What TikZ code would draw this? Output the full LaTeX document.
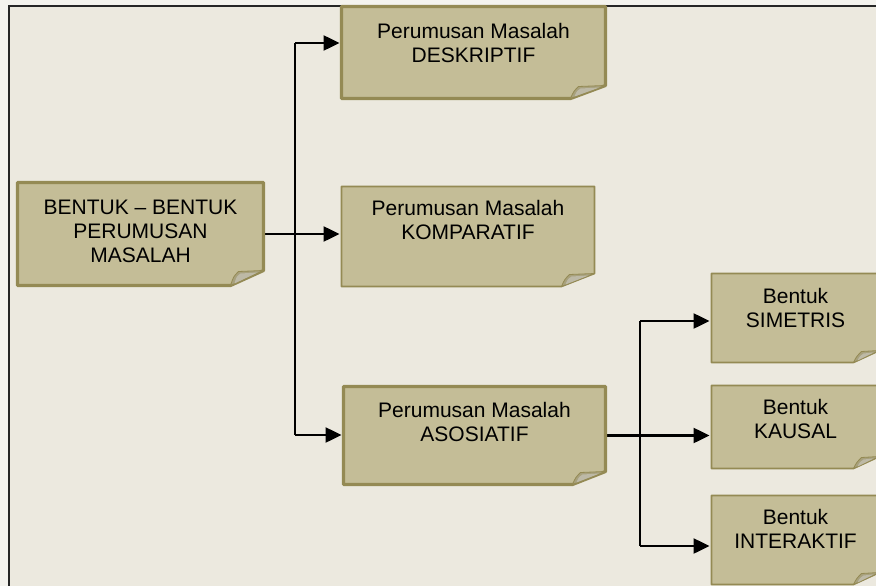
\documentclass[tikz,border=0pt]{standalone}
\usepackage{fontspec}
\setmainfont{Liberation Sans}
\usetikzlibrary{arrows.meta,backgrounds,calc}

\definecolor{outside}{HTML}{F4F3EE}
\definecolor{paper}{HTML}{ECE9DF}
\definecolor{notefill}{HTML}{C4BD97}
\definecolor{noteline}{HTML}{948A54}
\definecolor{curlfill}{HTML}{A8A17C}
\definecolor{curllight}{HTML}{BDB9A6}

% text of a sticky note: width, height, top padding, lines
\newcommand\notetext[4]{%
  \parbox[c][#2pt][t]{#1pt}{\centering\fontsize{21}{24}\selectfont\vspace*{#3pt}#4\par}}

% body of a sticky note with a curled lower right corner:
% node name, border width, fold width, fold height
\newcommand\notebody[4]{%
  \path[fill=notefill, draw=noteline, line width=#2pt, line join=round]
    (#1.north west) -- (#1.north east)
    -- ($(#1.south east)+(0,-#4)$)
    -- ($(#1.south east)+(-#3,0)$)
    -- (#1.south west) -- cycle;
  \path[fill=curlfill, draw=noteline, line width=0.8pt, line join=round]
    ($(#1.south east)+(-#3,0)$)
    .. controls ($(#1.south east)+(-#3+3,-#4+6)$) .. ($(#1.south east)+(-#3+8,-#4+1)$)
    -- ($(#1.south east)+(0,-#4)$) -- cycle;
  \path[fill=curllight]
    ($(#1.south east)+(-#3+4,-2)$)
    .. controls ($(#1.south east)+(-#3+6,-#4+6)$) .. ($(#1.south east)+(-#3+10,-#4+3)$)
    -- ($(#1.south east)+(-6,-#4+2)$) -- cycle;
}

\tikzset{
  note/.style={inner sep=0pt, outer sep=0pt, text=black},
  link/.style={draw=black, line width=2.5pt},
  arrowlink/.style={link, -{Triangle[length=16pt, width=15pt]}, shorten >=2pt},
}

\begin{document}
\begin{tikzpicture}[x=1pt, y=-1pt]
  \useasboundingbox (0,0) rectangle (876,586);

  % notes
  \node[note] (main) at (140.5,234)
    {\notetext{246}{103}{18}{BENTUK -- BENTUK\\PERUMUSAN\\MASALAH}};
  \node[note] (desk) at (473.5,52.5)
    {\notetext{264}{92}{17}{Perumusan Masalah\\DESKRIPTIF}};
  \node[note] (komp) at (468,236.5)
    {\notetext{253}{100}{14}{Perumusan Masalah\\KOMPARATIF}};
  \node[note] (asos) at (474.5,435.5)
    {\notetext{262}{98}{16}{Perumusan Masalah\\ASOSIATIF}};
  \node[note] (sime) at (795.5,318)
    {\notetext{168}{89}{15}{Bentuk\\SIMETRIS}};
  \node[note] (kaus) at (795.5,427)
    {\notetext{168}{83}{14}{Bentuk\\KAUSAL}};
  \node[note] (inte) at (795.5,540)
    {\notetext{168}{89}{14}{Bentuk\\INTERAKTIF}};

  % junction points of the connectors
  \coordinate (ltop) at (295,43);
  \coordinate (lbot) at (295,435);
  \coordinate (rtop) at (640,321);
  \coordinate (rbot) at (640,546);

  \begin{scope}[on background layer]
    % page and frame
    \fill[outside] (0,0) rectangle (876,586);
    \fill[paper, draw=black!85, line width=1.6pt] (9,6) rectangle (890,600);

    % connectors from the main note
    \draw[link] (ltop) -- (lbot);
    \draw[arrowlink] (main.east) -- (main.east -| komp.west);
    \draw[arrowlink] (ltop) -- (ltop -| desk.west);
    \draw[arrowlink] (lbot) -- (lbot -| asos.west);

    % connectors from the associative note
    \draw[link] (rtop) -- (rbot);
    \draw[arrowlink] (asos.east) -- (asos.east -| kaus.west);
    \draw[arrowlink] (rtop) -- (rtop -| sime.west);
    \draw[arrowlink] (rbot) -- (rbot -| inte.west);

    % note bodies
    \notebody{main}{3.2}{33}{15}
    \notebody{desk}{3.2}{35}{13}
    \notebody{komp}{1.6}{33}{13}
    \notebody{asos}{3.2}{33}{13}
    \notebody{sime}{1.6}{26}{12}
    \notebody{kaus}{1.6}{26}{12}
    \notebody{inte}{1.6}{26}{12}
  \end{scope}
\end{tikzpicture}
\end{document}
